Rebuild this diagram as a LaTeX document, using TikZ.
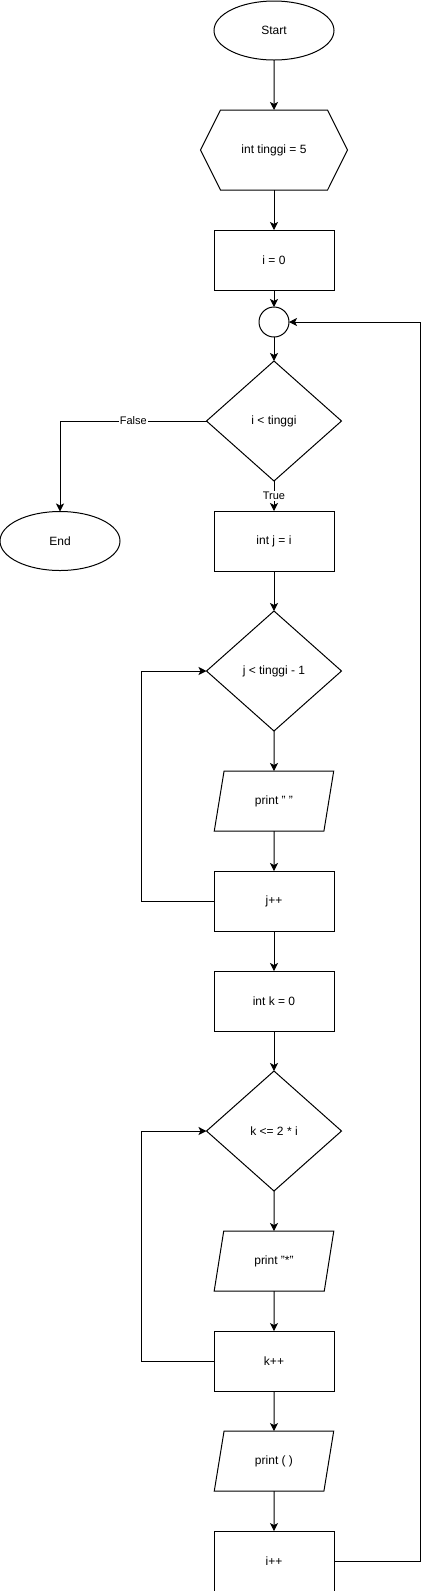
\documentclass[tikz,border=0pt]{standalone}
\usepackage{fontspec}
\setmainfont{Liberation Sans}
\usetikzlibrary{positioning,shapes.geometric,shapes.symbols,arrows.meta}

\begin{document}
\begin{tikzpicture}[x=1pt,y=-1pt,line width=1pt,
  font=\fontsize{12}{14}\selectfont,every node/.style={outer sep=0pt},
  term/.style={draw,ellipse,minimum width=120pt,minimum height=59pt,inner sep=0pt},
  hexa/.style={draw,signal,signal to=west and east,signal pointer angle=127,minimum width=147pt,minimum height=80pt,inner sep=0pt},
  proc/.style={draw,rectangle,minimum width=120pt,minimum height=60pt,inner sep=0pt},
  dec/.style={draw,diamond,minimum width=135pt,minimum height=120pt,inner sep=0pt},
  io/.style={draw,trapezium,trapezium left angle=71.57,trapezium right angle=108.43,trapezium stretches=true,minimum width=120pt,minimum height=60pt,inner sep=0pt},
  con/.style={draw,circle,minimum size=30pt,inner sep=0pt},
  arr/.style={-{Stealth[length=8pt,width=8pt,inset=2pt]}},
  lbl/.style={fill=white,inner sep=1pt,font=\fontsize{11}{13}\selectfont}]
\useasboundingbox (0,0) rectangle (430,1591);
\node[term](st) at (274,30.5) {Start};
\node[hexa,below=50pt of st](ht) {int tinggi = 5};
\node[proc,below=40pt of ht](b1) {i = 0};
\node[con,below=17pt of b1](c1) {};
\node[dec,below=24pt of c1](d1) {i < tinggi};
\node[proc,below=30pt of d1](b2) {int j = i};
\node[term,left=94pt of b2](en) {End};
\node[dec,below=40pt of b2](d2) {j < tinggi - 1};
\node[io,below=40pt of d2](p1) {print " "};
\node[proc,below=40pt of p1](b3) {j++};
\node[proc,below=40pt of b3](b4) {int k = 0};
\node[dec,below=40pt of b4](d3) {k <= 2 * i};
\node[io,below=40pt of d3](p2) {print "*"};
\node[proc,below=40pt of p2](b5) {k++};
\node[io,below=40pt of b5](p3) {print ( )};
\node[proc,below=40pt of p3](b6) {i++};
\draw[arr](st)--(ht);
\draw[arr](ht)--(b1);
\draw[arr](b1)--(c1);
\draw[arr](c1)--(d1);
\draw[arr](d1.west)-|(en.north) node[pos=0.25,lbl]{False};
\draw[arr](d1.south)--(b2.north) node[midway,lbl]{True};
\draw[arr](b2)--(d2);
\draw[arr](d2)--(p1);
\draw[arr](p1)--(b3);
\draw[arr](b3.west)--++(-73,0)|-(d2.west);
\draw[arr](b3)--(b4);
\draw[arr](b4)--(d3);
\draw[arr](d3)--(p2);
\draw[arr](p2)--(b5);
\draw[arr](b5.west)--++(-73,0)|-(d3.west);
\draw[arr](b5)--(p3);
\draw[arr](p3)--(b6);
\draw[arr](b6.east)--++(86,0)|-(c1.east);
\end{tikzpicture}
\end{document}
